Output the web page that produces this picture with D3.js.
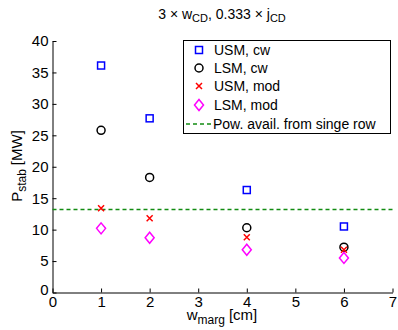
<!DOCTYPE html>
<html>
<head>
<meta charset="utf-8">
<script src="https://cdn.jsdelivr.net/npm/d3@7"></script>
<style>
  body { margin: 0; background: #fff; }
  svg text { font-family: "Liberation Sans", Arial, Helvetica, sans-serif; fill: #000; }
</style>
</head>
<body>
<svg id="chart" width="398" height="330"></svg>
<script>
// Margin width (cm) and stabilising power (MW)
const wMarg = [1, 2, 4, 6];
const usmCw = [36.1, 27.7, 16.3, 10.5];
const lsmCw = [25.8, 18.3, 10.3, 7.2];
const usmMod = [13.4, 11.8, 8.8, 6.8];
const lsmMod = [10.2, 8.7, 6.8, 5.5];
const powAvail = 13.2;
const xTicks = [0, 1, 2, 3, 4, 5, 6, 7];
const yTicks = [0, 5, 10, 15, 20, 25, 30, 35, 40];
const legendLabels = ["USM, cw", "LSM, cw", "USM, mod", "LSM, mod", "Pow. avail. from singe row"];

const svg = d3.select("#chart");
const plotLeft = 52.5, plotRight = 392.5, plotTop = 41, plotBottom = 292.5;

const x = d3.scaleLinear().domain([0, 7]).range([plotLeft, plotRight]);
const y = d3.scaleLinear().domain([0, 40]).range([plotBottom, plotTop]);

// Axes: MATLAB style, ticks pointing inward
const xAxis = d3.axisBottom(x).tickValues(xTicks).tickFormat(d3.format("d"))
  .tickSizeInner(-4).tickSizeOuter(0).tickPadding(4);
const yAxis = d3.axisLeft(y).tickValues(yTicks).tickFormat(d3.format("d"))
  .tickSizeInner(-4).tickSizeOuter(0).tickPadding(4);

const gx = svg.append("g").attr("transform", `translate(0,${plotBottom})`).call(xAxis);
const gy = svg.append("g").attr("transform", `translate(${plotLeft},0)`).call(yAxis);
[gx, gy].forEach(g => {
  g.select(".domain").attr("stroke", "#000").attr("stroke-width", 1);
  g.selectAll(".tick line").attr("stroke", "#000").attr("stroke-width", 1);
  g.selectAll(".tick text").attr("font-size", 15).attr("font-family", "Liberation Sans, Arial, sans-serif").attr("fill", "#000");
});
// the y-axis zero sits a little lower
gy.selectAll(".tick text").filter(d => d === 0).attr("dy", "0.1em");

// Reference line: power available from a single row
svg.append("line")
  .attr("x1", x(0)).attr("x2", x(7))
  .attr("y1", y(powAvail)).attr("y2", y(powAvail))
  .attr("stroke", "#128c12").attr("stroke-width", 1.5)
  .attr("stroke-dasharray", "4,3");

// Marker drawers
const markers = {
  square: (g, cx, cy, c) => g.append("rect").attr("x", cx - 3.5).attr("y", cy - 3.5).attr("width", 7).attr("height", 7)
    .attr("fill", "none").attr("stroke", c).attr("stroke-width", 1.5),
  circle: (g, cx, cy, c) => g.append("circle").attr("cx", cx).attr("cy", cy).attr("r", 4)
    .attr("fill", "none").attr("stroke", c).attr("stroke-width", 1.5),
  cross: (g, cx, cy, c) => g.append("path").attr("d", `M${cx - 3},${cy - 3}L${cx + 3},${cy + 3}M${cx - 3},${cy + 3}L${cx + 3},${cy - 3}`)
    .attr("fill", "none").attr("stroke", c).attr("stroke-width", 1.5),
  diamond: (g, cx, cy, c) => g.append("path").attr("d", `M${cx},${cy - 5.5}L${cx + 4.5},${cy}L${cx},${cy + 5.5}L${cx - 4.5},${cy}Z`)
    .attr("fill", "none").attr("stroke", c).attr("stroke-width", 1.5)
};

const series = [
  { vals: usmCw, m: "square", c: "#0000ff" },
  { vals: lsmCw, m: "circle", c: "#000000" },
  { vals: usmMod, m: "cross", c: "#ff0000" },
  { vals: lsmMod, m: "diamond", c: "#ff00ff" }
];

const gm = svg.append("g");
series.forEach(s => {
  s.vals.forEach((v, i) => markers[s.m](gm, x(wMarg[i]), y(v), s.c));
});

// Legend
const lg = svg.append("g");
lg.append("rect").attr("x", 183.5).attr("y", 40.5).attr("width", 207).attr("height", 93)
  .attr("fill", "#fff").attr("stroke", "#000").attr("stroke-width", 1);
const rowY = [50, 68, 86, 105, 124];
series.forEach((s, i) => markers[s.m](lg, 199, rowY[i], s.c));
lg.append("line").attr("x1", 186).attr("x2", 213).attr("y1", rowY[4]).attr("y2", rowY[4])
  .attr("stroke", "#128c12").attr("stroke-width", 1.5).attr("stroke-dasharray", "4,3");
legendLabels.forEach((t, i) => {
  lg.append("text").attr("x", i < 4 ? 214 : 213).attr("y", rowY[i]).attr("dy", "0.35em")
    .attr("font-size", 14).text(t);
});

// Title with subscripts
const title = svg.append("text").attr("x", 222).attr("y", 19).attr("text-anchor", "middle").attr("font-size", 14);
title.append("tspan").text("3 \u00d7 w");
title.append("tspan").attr("baseline-shift", "-30%").attr("font-size", 11).text("CD");
title.append("tspan").text(", 0.333 \u00d7 j");
title.append("tspan").attr("baseline-shift", "-30%").attr("font-size", 11).text("CD");

// X label
const xl = svg.append("text").attr("x", 222).attr("y", 320).attr("text-anchor", "middle").attr("font-size", 15);
xl.append("tspan").text("w");
xl.append("tspan").attr("baseline-shift", "-35%").attr("font-size", 12).text("marg");
xl.append("tspan").attr("dx", 4).attr("baseline-shift", "0%").text("[cm]");

// Y label
const yl = svg.append("text").attr("transform", "translate(22,166) rotate(-90)").attr("text-anchor", "middle").attr("font-size", 15);
yl.append("tspan").text("P");
yl.append("tspan").attr("baseline-shift", "-35%").attr("font-size", 12).text("stab");
yl.append("tspan").attr("dx", 4).text("[MW]");
</script>
</body>
</html>
